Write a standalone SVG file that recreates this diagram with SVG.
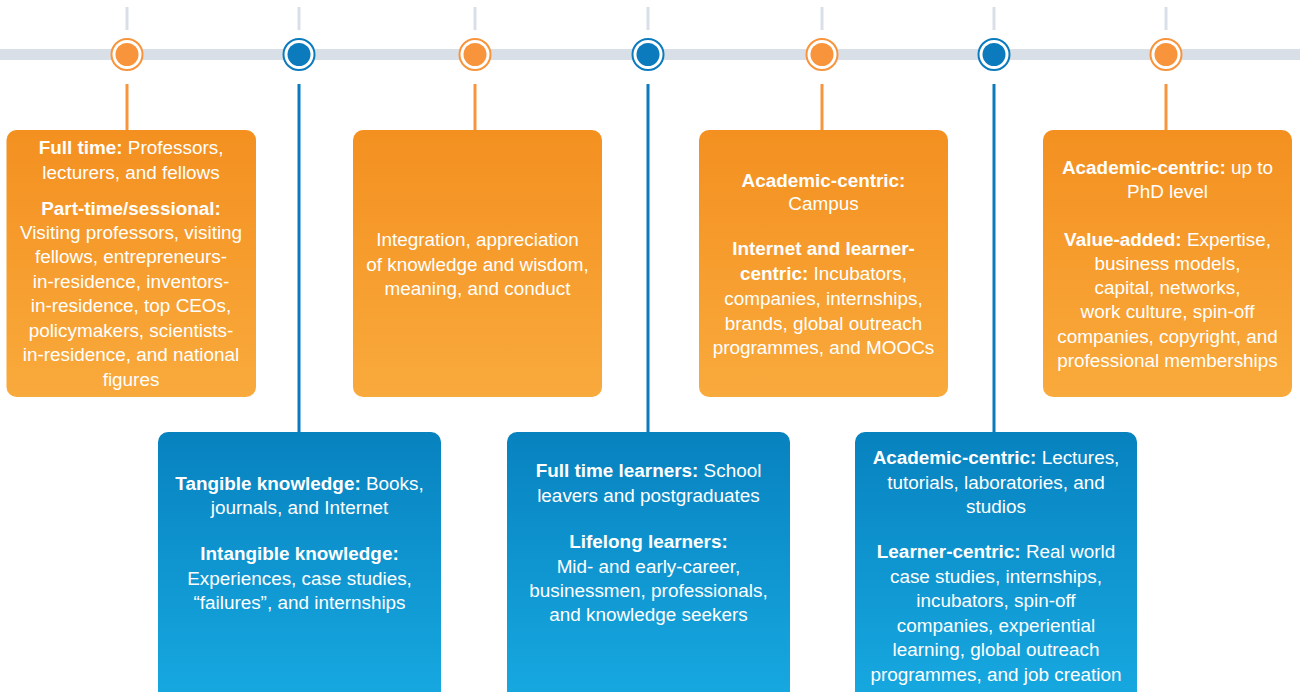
<svg xmlns="http://www.w3.org/2000/svg" width="1300" height="692" viewBox="0 0 1300 692">
<defs>
<linearGradient id="gO" x1="0" y1="0" x2="0" y2="1"><stop offset="0" stop-color="#f39020"/><stop offset="1" stop-color="#f9aa3c"/></linearGradient>
<linearGradient id="gB" x1="0" y1="0" x2="0" y2="1"><stop offset="0" stop-color="#0782bf"/><stop offset="1" stop-color="#17a9e1"/></linearGradient>
<style>
.tick{stroke:#d9dfe6;stroke-width:3}
.lo{stroke:#f7943c;stroke-width:3}
.lb{stroke:#0b7bbd;stroke-width:3}
.ro{fill:#fff;stroke:#f7943c;stroke-width:2}
.rb{fill:#fff;stroke:#0b7bbd;stroke-width:2}
.co{fill:#f7943c}
.cb{fill:#0b7bbd}
.bo{fill:url(#gO)}
.bb{fill:url(#gB)}
text{font-family:"Liberation Sans",Arial,sans-serif;font-size:18.9px;fill:#fff;text-anchor:middle}
.b{font-weight:bold}
</style>
</defs>
<rect x="0" y="49" width="1300" height="11" fill="#d9dfe6"/>
<g id="connectors">
<line class="tick" x1="127" y1="7" x2="127" y2="30"/>
<line class="tick" x1="299" y1="7" x2="299" y2="30"/>
<line class="tick" x1="475" y1="7" x2="475" y2="30"/>
<line class="tick" x1="648" y1="7" x2="648" y2="30"/>
<line class="tick" x1="822" y1="7" x2="822" y2="30"/>
<line class="tick" x1="994" y1="7" x2="994" y2="30"/>
<line class="tick" x1="1166" y1="7" x2="1166" y2="30"/>
<line class="lo" x1="127" y1="84" x2="127" y2="132"/>
<line class="lb" x1="299" y1="84" x2="299" y2="434"/>
<line class="lo" x1="475" y1="84" x2="475" y2="132"/>
<line class="lb" x1="648" y1="84" x2="648" y2="434"/>
<line class="lo" x1="822" y1="84" x2="822" y2="132"/>
<line class="lb" x1="994" y1="84" x2="994" y2="434"/>
<line class="lo" x1="1166" y1="84" x2="1166" y2="132"/>
</g>
<g id="markers">
<circle class="ro" cx="127" cy="54.5" r="15.5"/><circle class="co" cx="127" cy="54.5" r="11.5"/>
<circle class="rb" cx="299" cy="54.5" r="15.5"/><circle class="cb" cx="299" cy="54.5" r="11.5"/>
<circle class="ro" cx="475" cy="54.5" r="15.5"/><circle class="co" cx="475" cy="54.5" r="11.5"/>
<circle class="rb" cx="648" cy="54.5" r="15.5"/><circle class="cb" cx="648" cy="54.5" r="11.5"/>
<circle class="ro" cx="822" cy="54.5" r="15.5"/><circle class="co" cx="822" cy="54.5" r="11.5"/>
<circle class="rb" cx="994" cy="54.5" r="15.5"/><circle class="cb" cx="994" cy="54.5" r="11.5"/>
<circle class="ro" cx="1166" cy="54.5" r="15.5"/><circle class="co" cx="1166" cy="54.5" r="11.5"/>
</g>
<g id="node-faculty">
<rect class="bo" x="6.5" y="130" width="249.5" height="267" rx="10"/>
<text x="131" y="154"><tspan class="b">Full time:</tspan> Professors,</text>
<text x="131" y="179">lecturers, and fellows</text>
<text x="131" y="215" class="b">Part-time/sessional:</text>
<text x="131" y="239">Visiting professors, visiting</text>
<text x="131" y="263">fellows, entrepreneurs-</text>
<text x="131" y="288">in-residence, inventors-</text>
<text x="131" y="312">in-residence, top CEOs,</text>
<text x="131" y="337">policymakers, scientists-</text>
<text x="131" y="361">in-residence, and national</text>
<text x="131" y="386">figures</text>
</g>
<g id="node-knowledge">
<rect class="bb" x="158" y="432" width="283" height="270" rx="10"/>
<text x="299.5" y="490"><tspan class="b">Tangible knowledge:</tspan> Books,</text>
<text x="299.5" y="514">journals, and Internet</text>
<text x="299.5" y="560" class="b">Intangible knowledge:</text>
<text x="299.5" y="585">Experiences, case studies,</text>
<text x="299.5" y="609">“failures”, and internships</text>
</g>
<g id="node-wisdom">
<rect class="bo" x="353" y="130" width="249" height="267" rx="10"/>
<text x="477.5" y="246">Integration, appreciation</text>
<text x="477.5" y="271">of knowledge and wisdom,</text>
<text x="477.5" y="295">meaning, and conduct</text>
</g>
<g id="node-learners">
<rect class="bb" x="507" y="432" width="283" height="270" rx="10"/>
<text x="648.5" y="477"><tspan class="b">Full time learners:</tspan> School</text>
<text x="648.5" y="502">leavers and postgraduates</text>
<text x="648.5" y="548" class="b">Lifelong learners:</text>
<text x="648.5" y="573">Mid- and early-career,</text>
<text x="648.5" y="597">businessmen, professionals,</text>
<text x="648.5" y="621">and knowledge seekers</text>
</g>
<g id="node-campus">
<rect class="bo" x="699" y="130" width="249" height="267" rx="10"/>
<text x="823.5" y="187" class="b">Academic-centric:</text>
<text x="823.5" y="210">Campus</text>
<text x="823.5" y="255" class="b">Internet and learner-</text>
<text x="823.5" y="280"><tspan class="b">centric:</tspan> Incubators,</text>
<text x="823.5" y="305">companies, internships,</text>
<text x="823.5" y="330">brands, global outreach</text>
<text x="823.5" y="354">programmes, and MOOCs</text>
</g>
<g id="node-delivery">
<rect class="bb" x="855" y="432" width="282" height="270" rx="10"/>
<text x="996" y="464"><tspan class="b">Academic-centric:</tspan> Lectures,</text>
<text x="996" y="489">tutorials, laboratories, and</text>
<text x="996" y="513">studios</text>
<text x="996" y="558"><tspan class="b">Learner-centric:</tspan> Real world</text>
<text x="996" y="583">case studies, internships,</text>
<text x="996" y="607">incubators, spin-off</text>
<text x="996" y="632">companies, experiential</text>
<text x="996" y="656">learning, global outreach</text>
<text x="996" y="681">programmes, and job creation</text>
</g>
<g id="node-outcomes">
<rect class="bo" x="1043" y="130" width="249" height="267" rx="10"/>
<text x="1167.5" y="174"><tspan class="b">Academic-centric:</tspan> up to</text>
<text x="1167.5" y="198">PhD level</text>
<text x="1167.5" y="246"><tspan class="b">Value-added:</tspan> Expertise,</text>
<text x="1167.5" y="270">business models,</text>
<text x="1167.5" y="294">capital, networks,</text>
<text x="1167.5" y="318">work culture, spin-off</text>
<text x="1167.5" y="343">companies, copyright, and</text>
<text x="1167.5" y="367">professional memberships</text>
</g>
</svg>
